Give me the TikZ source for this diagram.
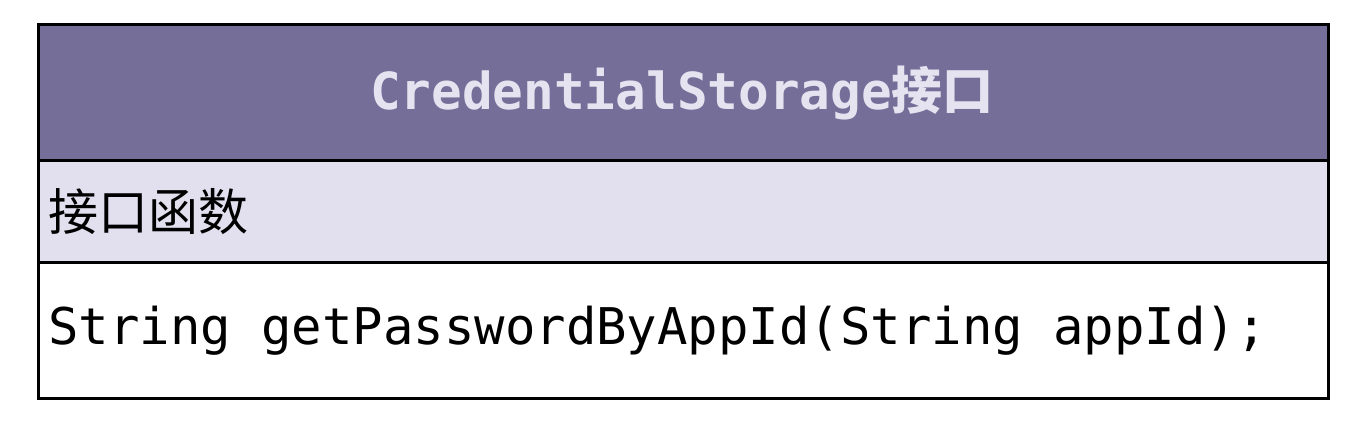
\documentclass[tikz,border=0pt]{standalone}
\usepackage{fontspec}
\setmonofont{DejaVu Sans Mono}
\newfontfamily\cjk{Noto Sans CJK SC}
\usepackage{tikz}
\definecolor{headfill}{HTML}{746E98}
\definecolor{bandfill}{HTML}{E2E0EE}
\definecolor{headtext}{HTML}{E6E3F0}

\begin{document}
\begin{tikzpicture}[x=1pt,y=1pt,font=\fontsize{50}{60}\selectfont]
\useasboundingbox (0,0) rectangle (1358,428);
% header of the interface box
\fill[headfill] (38,267) rectangle (1328,403);
\node[text=headtext,font=\fontsize{51}{61}\selectfont\ttfamily\bfseries] (title) at (682,335) {CredentialStorage{\cjk 接口}};
% band with the section name
\fill[bandfill] (38,165) rectangle (1328,267);
\node[anchor=west,inner sep=0pt,font=\fontsize{50}{60}\selectfont\cjk] (section) at (48,216) {接口函数};
% method row
\node[anchor=west,inner sep=0pt,font=\fontsize{50.6}{60}\selectfont\ttfamily] (method) at (48,97) {String getPasswordByAppId(String appId);};
% outline and dividers
\draw[line width=3pt] (38,29) rectangle (1328,403);
\draw[line width=3pt] (38,267) -- (1328,267);
\draw[line width=3pt] (38,165) -- (1328,165);
\end{tikzpicture}
\end{document}
